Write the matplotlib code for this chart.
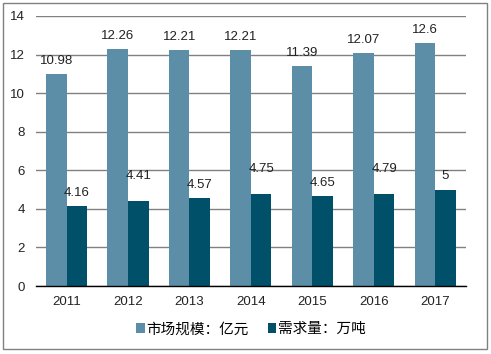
import numpy as np
import matplotlib.pyplot as plt
from matplotlib.patches import Rectangle

plt.rcParams['font.family'] = ['Liberation Sans', 'Noto Sans CJK SC', 'DejaVu Sans']

years = ['2011', '2012', '2013', '2014', '2015', '2016', '2017']
market_size = [10.98, 12.26, 12.21, 12.21, 11.39, 12.07, 12.6]
demand = [4.16, 4.41, 4.57, 4.75, 4.65, 4.79, 5]
market_labels = ['10.98', '12.26', '12.21', '12.21', '11.39', '12.07', '12.6']
demand_labels = ['4.16', '4.41', '4.57', '4.75', '4.65', '4.79', '5']

light = '#5c8fa7'
dark = '#005069'
fs = 9.5

fig = plt.figure(figsize=(4.91, 3.54), dpi=100)
ax = fig.add_axes([0.073, 0.192, 0.876, 0.763])

x = np.arange(len(years))
w = 0.335
ax.bar(x - w / 2, market_size, w, color=light, label='市场规模：亿元', zorder=3)
ax.bar(x + w / 2, demand, w, color=dark, label='需求量：万吨', zorder=3)

# data labels (Excel staggered the small ones to avoid overlap)
for i in range(len(years)):
    ax.annotate(market_labels[i], (x[i] - w / 2, market_size[i]), xytext=(0, 9.5),
                textcoords='offset points', ha='center', va='center', fontsize=fs, color='#222222')
    off = 18 if i % 2 else 9.5
    ax.annotate(demand_labels[i], (x[i] + w / 2, demand[i]), xytext=(0, off),
                textcoords='offset points', ha='center', va='center', fontsize=fs, color='#222222')

ax.set_xlim(-0.5, len(years) - 0.5)
ax.set_ylim(0, 14)
ax.set_yticks(range(0, 15, 2))
ax.set_xticks(x)
ax.set_xticklabels(years)
ax.tick_params(length=0, labelsize=fs, colors='#222222')
ax.tick_params(axis='y', pad=8)
ax.tick_params(axis='x', pad=7)
ax.yaxis.grid(True, color='#808080', linewidth=1, zorder=0)
for s in ['left', 'right', 'top']:
    ax.spines[s].set_visible(False)
ax.spines['bottom'].set_color('#000000')
ax.spines['bottom'].set_linewidth(1)
ax.spines['bottom'].set_zorder(4)

ax.legend(loc='center', bbox_to_anchor=(0.5, -0.16), ncol=2, frameon=False,
          handlelength=0.6, handleheight=0.6, handletextpad=0.1,
          columnspacing=1.3, prop={'family': ['Noto Sans CJK SC'], 'size': 10.5})

fig.patches.append(Rectangle((3 / 491, 5 / 354), 484 / 491, 346 / 354, transform=fig.transFigure,
                             fill=False, edgecolor='#808080', linewidth=1))

fig.savefig('out.png', dpi=100)
